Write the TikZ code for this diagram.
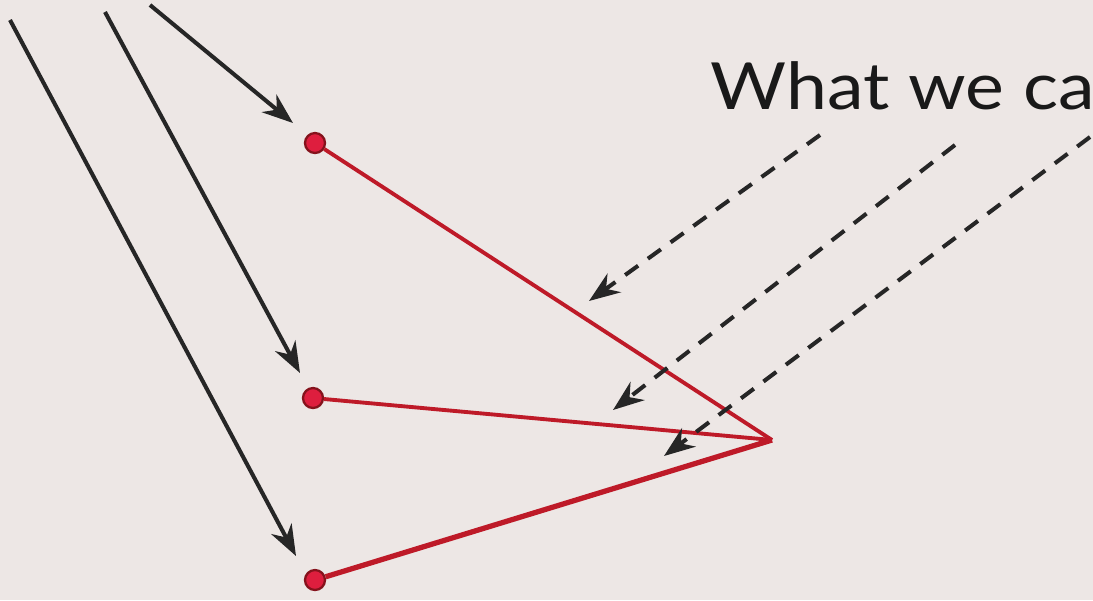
\documentclass[tikz,border=0pt]{standalone}
\usepackage{fontspec}
\setmainfont{Lato}
\usetikzlibrary{arrows.meta}
\definecolor{paper}{RGB}{237,231,229}
\definecolor{rayred}{RGB}{190,26,40}
\definecolor{dotred}{RGB}{222,30,62}
\tikzset{
  dot/.style={circle, draw=rayred!70!black, fill=dotred, line width=1.3pt, minimum size=0.4cm, inner sep=0pt},
  ray/.style={draw=rayred, line width=2.2pt},
  light/.style={-{Stealth[length=0.62cm,width=0.46cm]}, line width=2.3pt, black!85},
  seen/.style={light, dash pattern=on 0.32cm off 0.24cm}
}
\begin{document}
\begin{tikzpicture}[x=0.02cm,y=-0.02cm]
\clip (0,0) rectangle (1093,600);
\fill[paper] (0,0) rectangle (1093,600);
\node[anchor=base west, inner sep=0pt, font=\fontsize{37}{40}\selectfont\addfontfeature{FakeStretch=1.13}, black!90] (title) at (710,109) {What we ca};
% the three points and the eye
\node[dot] (p1) at (315,143) {};
\node[dot] (p2) at (313,398) {};
\node[dot] (p3) at (315,580) {};
\coordinate (eye) at (772,440);
\draw[ray] (p1) -- (eye);
\draw[ray] (p2) -- (eye);
\draw[ray, line width=3pt] (p3) -- (eye);
% incoming light
\coordinate (s1) at (150,5);
\coordinate (s2) at (105,12);
\coordinate (s3) at (10,20);
\coordinate (t1) at (293,123);
\coordinate (t2) at (300,373);
\coordinate (t3) at (296,556);
\draw[light] (s1) -- (t1);
\draw[light] (s2) -- (t2);
\draw[light] (s3) -- (t3);
% what we see
\coordinate (a1) at (820,135);
\coordinate (a2) at (955,145);
\coordinate (a3) at (1090,137);
\coordinate (b1) at (589,301);
\coordinate (b2) at (613,410);
\coordinate (b3) at (664,456);
\draw[seen] (a1) -- (b1);
\draw[seen] (a2) -- (b2);
\draw[seen] (a3) -- (b3);
\end{tikzpicture}
\end{document}
